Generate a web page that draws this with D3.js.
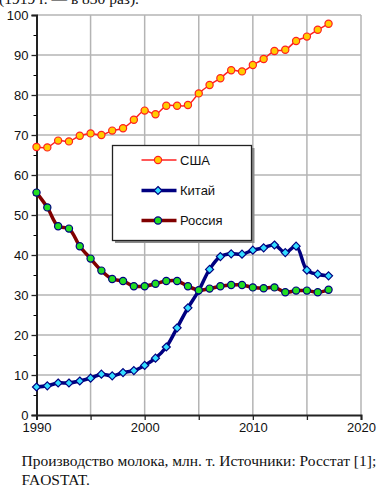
<!DOCTYPE html>
<html>
<head>
<meta charset="utf-8">
<script src="https://cdn.jsdelivr.net/npm/d3@7"></script>
<style>
body { margin: 0; background: #fff; }
svg { display: block; }
</style>
</head>
<body>
<div id="chart-area"></div>
<script>
var years = d3.range(1990, 2018);
var usa = [67.0, 66.9, 68.6, 68.4, 69.8, 70.4, 70.0, 71.1, 71.7, 73.8, 76.1, 75.2, 77.3, 77.3, 77.5,
    80.4, 82.5, 84.2, 86.2, 85.9, 87.5, 89.0, 91.0, 91.3, 93.5, 94.6, 96.3, 97.8];
var china = [7.0, 7.3, 8.0, 8.0, 8.5, 9.2, 10.2, 9.8, 10.6, 11.1, 12.4, 14.2, 17.0, 21.8, 26.8,
    31.1, 36.4, 39.6, 40.3, 40.2, 41.2, 41.8, 42.5, 40.6, 42.2, 36.2, 35.2, 34.8];
var russia = [55.6, 51.9, 47.2, 46.6, 42.2, 39.1, 36.1, 34.0, 33.5, 32.2, 32.2, 32.8, 33.5, 33.5, 32.2,
    31.2, 31.6, 32.2, 32.5, 32.5, 31.9, 31.7, 31.9, 30.7, 31.1, 31.1, 30.7, 31.3];
var seriesNames = ["США", "Китай", "Россия"];
var xTicks = [1990, 2000, 2010, 2020];
var yTicks = [0, 10, 20, 30, 40, 50, 60, 70, 80, 90, 100];
var captionLines = ["Производство молока, млн. т. Источники: Росстат [1];", "FAOSTAT."];

var width = 388, height = 504;
var svg = d3.select("#chart-area").append("svg")
    .attr("width", width)
    .attr("height", height);

var x = d3.scaleLinear().domain([1990, 2020]).range([36.5, 361]);
var y = d3.scaleLinear().domain([0, 100]).range([415, 15]);

// cropped text line from the page above
svg.append("text")
    .text("(1919 г. — в 830 раз).")
    .attr("x", 139).attr("y", 3.5)
    .style("text-anchor", "end")
    .style("font-family", "Liberation Serif, serif")
    .style("font-size", "15.5px")
    .style("fill", "#111");

// grid
var grid = svg.append("g");
grid.selectAll(".vg")
    .data(d3.range(1995, 2021, 5))
    .enter().append("line")
    .attr("x1", function (d) { return x(d); })
    .attr("x2", function (d) { return x(d); })
    .attr("y1", y(0)).attr("y2", y(100))
    .attr("stroke", "#b4b4b4").attr("stroke-width", 1.5);
grid.selectAll(".hg")
    .data(yTicks.slice(1))
    .enter().append("line")
    .attr("x1", x(1990)).attr("x2", x(2020))
    .attr("y1", function (d) { return y(d); })
    .attr("y2", function (d) { return y(d); })
    .attr("stroke", "#b4b4b4").attr("stroke-width", 1.5);

// axes
var yAxis = svg.append("g")
    .attr("transform", "translate(" + x(1990) + ",0)")
    .call(d3.axisLeft(y).tickValues(yTicks).tickSize(5).tickPadding(3));
svg.append("g")
    .attr("transform", "translate(" + x(1990) + ",0)")
    .call(d3.axisLeft(y).tickValues(d3.range(5, 100, 10)).tickSize(3).tickFormat(""))
    .select(".domain").remove();
var xAxis = svg.append("g")
    .attr("transform", "translate(0," + y(0) + ")")
    .call(d3.axisBottom(x).tickValues(d3.range(1990, 2021, 5)).tickSize(5)
        .tickFormat(function (d) { return xTicks.indexOf(d) >= 0 ? d : ""; }).tickPadding(3));

[yAxis, xAxis].forEach(function (a) {
    a.select(".domain").attr("stroke", "#222").attr("stroke-width", 2);
    a.selectAll(".tick line").attr("stroke", "#222").attr("stroke-width", 1.3);
    a.selectAll("text")
        .style("font-family", "Liberation Sans, Arial, sans-serif")
        .style("font-size", "13px")
        .style("fill", "#111");
});

var line = d3.line()
    .x(function (d) { return x(d[0]); })
    .y(function (d) { return y(d[1]); })
    .curve(d3.curveCatmullRom.alpha(0.5));

function pairs(vals) {
    return years.map(function (yr, i) { return [yr, vals[i]]; });
}

var styles = [
    { data: usa, stroke: "#ff2020", width: 1.5, shape: "circle", fill: "#ffcc00", mstroke: "#ff2020" },
    { data: china, stroke: "#000080", width: 3.5, shape: "diamond", fill: "#33ddff", mstroke: "#000080" },
    { data: russia, stroke: "#800000", width: 3.5, shape: "circle", fill: "#22dd22", mstroke: "#000080" }
];

function drawMarker(g, shape, px, py, fill, stroke) {
    if (shape === "circle") {
        g.append("circle").attr("cx", px).attr("cy", py).attr("r", 3.6)
            .attr("fill", fill).attr("stroke", stroke).attr("stroke-width", 1.2);
    } else {
        var r = 4;
        g.append("path")
            .attr("d", "M" + px + "," + (py - r) + "L" + (px + r) + "," + py + "L" + px + "," + (py + r) + "L" + (px - r) + "," + py + "Z")
            .attr("fill", fill).attr("stroke", stroke).attr("stroke-width", 1.2);
    }
}

styles.forEach(function (s) {
    var pts = pairs(s.data);
    svg.append("path")
        .datum(pts)
        .attr("d", line)
        .attr("fill", "none")
        .attr("stroke", s.stroke)
        .attr("stroke-width", s.width)
        .attr("stroke-linejoin", "round");
    var g = svg.append("g");
    pts.forEach(function (p) {
        drawMarker(g, s.shape, x(p[0]), y(p[1]), s.fill, s.mstroke);
    });
});

// legend
var lg = svg.append("g");
lg.append("rect").attr("x", 115).attr("y", 148).attr("width", 139.5).attr("height", 95).attr("fill", "#8a8a8a");
lg.append("rect").attr("x", 112.5).attr("y", 145.5).attr("width", 139).attr("height", 95)
    .attr("fill", "#fff").attr("stroke", "#222").attr("stroke-width", 1.3);
var legendY = [160, 190.5, 220.5];
styles.forEach(function (s, i) {
    lg.append("line")
        .attr("x1", 141.5).attr("x2", 176.5)
        .attr("y1", legendY[i]).attr("y2", legendY[i])
        .attr("stroke", s.stroke).attr("stroke-width", s.width);
    drawMarker(lg, s.shape, 158, legendY[i], s.fill, s.mstroke);
    lg.append("text")
        .text(seriesNames[i])
        .attr("x", 180).attr("y", legendY[i] + 4.5)
        .style("font-family", "Liberation Sans, Arial, sans-serif")
        .style("font-size", "13px")
        .style("fill", "#111");
});

// caption
svg.selectAll(".caption")
    .data(captionLines)
    .enter().append("text")
    .text(function (d) { return d; })
    .attr("x", 21.5)
    .attr("y", function (d, i) { return 466 + i * 19; })
    .style("font-family", "Liberation Serif, 'Times New Roman', serif")
    .style("font-size", "15.5px")
    .style("fill", "#111");
</script>
</body>
</html>
